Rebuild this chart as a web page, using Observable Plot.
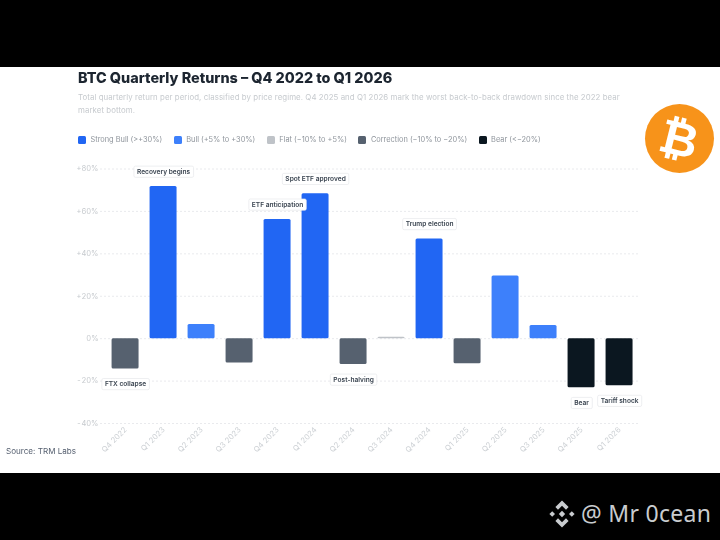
<!DOCTYPE html>
<html><head><meta charset="utf-8">
<script src="https://cdn.jsdelivr.net/npm/d3@7"></script>
<script src="https://cdn.jsdelivr.net/npm/@observablehq/plot@0.6"></script>
<style>
html,body{margin:0;padding:0;background:#000;width:720px;height:540px;overflow:hidden}
body{position:relative;font-family:Inter,"Open Sans",sans-serif}
#panel{position:absolute;left:0;top:67px;width:720px;height:406px;background:#fff;filter:blur(0.4px)}
#chart{position:absolute;left:0;top:0}
#chart svg{display:block;background:transparent}
.abs{position:absolute;white-space:nowrap}
#title{left:78px;top:0.5px;font-size:14.4px;font-weight:800;color:#1c2530;line-height:20px}
#sub{left:78px;top:24px;font-size:7.85px;letter-spacing:.07px;color:#c6cace;line-height:12.5px}
#legend{left:78px;top:68px;display:flex;gap:11.5px;font-size:7.4px;color:#8f959c;line-height:10px}
#legend span.it{display:flex;align-items:center;gap:4.5px}
#legend i{display:block;width:8px;height:8px;border-radius:1.5px}
#source{left:6px;top:378px;font-size:8.1px;color:#566070;line-height:12px}
#btc{left:645px;top:37px;width:69px;height:69px;border-radius:50%;background:#f7931a;color:#fff;text-align:center;font:700 47px/69px "DejaVu Sans",sans-serif}
#btc b{display:inline-block;transform:rotate(14deg);font-weight:700}
#wm{left:581px;top:498px;font:23px/30px "Noto Sans","Open Sans",sans-serif;color:#c9cccf;letter-spacing:.3px}
#wmlogo{position:absolute;left:548px;top:500px}
</style></head><body>
<div id="panel">
  <div id="chart"></div>
  <div class="abs" id="title">BTC Quarterly Returns – Q4 2022 to Q1 2026</div>
  <div class="abs" id="sub">Total quarterly return per period, classified by price regime. Q4 2025 and Q1 2026 mark the worst back-to-back drawdown since the 2022 bear<br>market bottom.</div>
  <div class="abs" id="legend"></div>
  <div class="abs" id="source">Source: TRM Labs</div>
  <div class="abs" id="btc"><b>₿</b></div>
</div>
<svg id="wmlogo" width="28" height="28" viewBox="0 0 28 28" fill="#c9cccf">
  <path d="M14 0.5l6.6 6.6-2.6 2.6L14 5.7l-4 4-2.6-2.6z"/>
  <path d="M14 27.5l6.6-6.6-2.6-2.6-4 4-4-4-2.6 2.6z"/>
  <path d="M4.2 11.2L7 14l-2.8 2.8L1.4 14z"/>
  <path d="M23.8 11.2L26.6 14l-2.8 2.8L21 14z"/>
  <path d="M14 10.8L17.2 14 14 17.2 10.8 14z"/>
</svg>
<div class="abs" id="wm">@ Mr 0cean</div>
<script>
const quarters = ["Q4 2022","Q1 2023","Q2 2023","Q3 2023","Q4 2023","Q1 2024","Q2 2024","Q3 2024","Q4 2024","Q1 2025","Q2 2025","Q3 2025","Q4 2025","Q1 2026"];
const returns = [-14.3,71.7,6.7,-11.5,56.2,68.3,-12.2,0.7,47,-11.8,29.5,6.2,-23.2,-22.2];
const regimeOf = ["Correction","Strong Bull","Bull","Correction","Strong Bull","Strong Bull","Correction","Flat","Strong Bull","Correction","Bull","Bull","Bear","Bear"];
const notes = ["FTX collapse","Recovery begins","","","ETF anticipation","Spot ETF approved","Post-halving","","Trump election","","","","Bear","Tariff shock"];
const regimes = ["Strong Bull","Bull","Flat","Correction","Bear"];
const legendLabels = ["Strong Bull (>+30%)","Bull (+5% to +30%)","Flat (−10% to +5%)","Correction (−10% to −20%)","Bear (<−20%)"];
const regimeColors = ["#2166f3","#3d80fb","#bfc3c8","#56616f","#0b1720"];
const yTicks = [-40,-20,0,20,40,60,80];

const rows = quarters.map((q,i)=>({q,v:returns[i],regime:regimeOf[i],note:notes[i]}));
const above = rows.filter(d=>d.note && d.v>0);
const below = rows.filter(d=>d.note && d.v<0);
const fmt = d => d>0 ? `+${d}%` : d<0 ? `-${-d}%` : "0%";

const noteStyle = {x:"q",y:"v",text:"note",fontSize:6.6,fontWeight:600,fill:"#3a4450",
  lineAnchor:"middle",textAnchor:"middle",className:"note"};

const plot = Plot.plot({
  width:720,height:406,
  marginTop:101.5,marginBottom:50,marginLeft:100,marginRight:82,
  style:{background:"transparent",fontFamily:"Inter, sans-serif"},
  x:{domain:quarters,round:false,paddingInner:0.29,paddingOuter:0.224,align:0.68,label:null},
  y:{domain:[-40,80],label:null},
  color:{domain:regimes,range:regimeColors},
  marks:[
    Plot.ruleY(yTicks,{stroke:"#e3e5e8",strokeDasharray:"2 2",strokeWidth:0.8}),
    Plot.barY(rows,{x:"q",y1:0,y2:"v",fill:"regime",rx:1.5}),
    Plot.axisY({ticks:yTicks,tickFormat:fmt,tickSize:0,tickPadding:2,fontSize:7.5,label:null,fill:"#c6cace"}),
    Plot.axisX({tickSize:0,tickPadding:5,tickRotate:-45,fontSize:7.7,label:null,fill:"#ccd0d4"}),
    Plot.text(above,{...noteStyle,dy:-15}),
    Plot.text(below,{...noteStyle,dy:15})
  ]
});
document.getElementById("chart").appendChild(plot);

// White outlined box behind each annotation, sized from the rendered text.
plot.querySelectorAll("g.note text, .note text").forEach(t=>{
  const b=t.getBBox();
  const r=document.createElementNS("http://www.w3.org/2000/svg","rect");
  const padX=3,padY=1.6;
  r.setAttribute("x",b.x-padX);r.setAttribute("y",b.y-padY);
  r.setAttribute("width",b.width+2*padX);r.setAttribute("height",b.height+2*padY);
  r.setAttribute("rx",1.5);r.setAttribute("fill","#fff");
  r.setAttribute("stroke","#e6e8eb");r.setAttribute("stroke-width",0.7);
  if(t.getAttribute("transform"))r.setAttribute("transform",t.getAttribute("transform"));
  t.parentNode.insertBefore(r,t);
});

const lg=document.getElementById("legend");
regimes.forEach((r,i)=>{
  const s=document.createElement("span");s.className="it";
  const sw=document.createElement("i");sw.style.background=regimeColors[i];
  s.appendChild(sw);s.appendChild(document.createTextNode(legendLabels[i]));lg.appendChild(s);
});
</script>
</body></html>
